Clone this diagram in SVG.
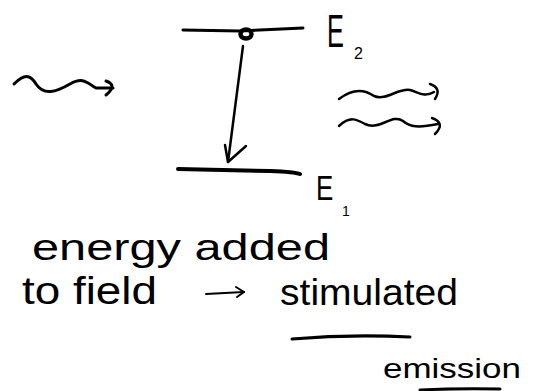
<svg xmlns="http://www.w3.org/2000/svg" width="556" height="391" viewBox="0 0 556 391">
<style>
.s{fill:none;stroke:#000;stroke-linecap:round;stroke-linejoin:round}
.t{font-family:"Liberation Sans",Arial,sans-serif;fill:#000}
</style>
<rect width="556" height="391" fill="#fff"/>
<g id="level-E2">
<path class="s" stroke-width="3" d="M183,30 L240,31 L303,28"/>
<ellipse cx="246" cy="34" rx="5.5" ry="4.5" fill="none" stroke="#000" stroke-width="4.5"/>
<text class="t" transform="translate(327,47) scale(0.55,1)" font-size="46">E</text>
<text class="t" x="354" y="59" font-size="16">2</text>
</g>
<g id="level-E1">
<path class="s" stroke-width="4" d="M178,169 L270,171 Q295,172 300,174"/>
<text class="t" transform="translate(316,200) scale(0.72,1)" font-size="36">E</text>
<text class="t" x="342" y="216" font-size="14">1</text>
</g>
<g id="connectors">
<path class="s" stroke-width="2.5" d="M243,46 L228,162"/>
<path class="s" stroke-width="2.5" d="M225,145 L228,162 L246,146"/>
<path class="s" stroke-width="3" d="M14,84 C24,74 30,74 36,84 C44,96 56,92 70,84 C84,76 88,84 96,88 L113,88"/>
<path class="s" stroke-width="3" d="M106,81 Q118,85 106,95"/>
<path class="s" stroke-width="2.5" d="M339,99 C352,89 364,89 374,96 C386,101 398,88 410,90 C418,92 424,98 434,92"/>
<path class="s" stroke-width="2.5" d="M430,84 Q442,88 435,99"/>
<path class="s" stroke-width="2.5" d="M339,126 C350,116 356,119 365,124 C380,131 392,113 403,121 C410,127 418,128 438,124"/>
<path class="s" stroke-width="2.5" d="M432,118 Q446,123 435,134"/>
<path class="s" stroke-width="2" d="M206,294 L244,292"/>
<path class="s" stroke-width="2" d="M236,287 L244,292 L237,297"/>
</g>
<g id="caption">
<text class="t" x="32" y="260" font-size="36" textLength="298" lengthAdjust="spacingAndGlyphs">energy added</text>
<text class="t" x="22" y="304" font-size="38" textLength="135" lengthAdjust="spacingAndGlyphs">to field</text>
<text class="t" x="280" y="305" font-size="36" textLength="178" lengthAdjust="spacingAndGlyphs">stimulated</text>
<path class="s" stroke-width="3" d="M292,339 Q350,334 410,337"/>
<text class="t" x="383" y="378" font-size="28" textLength="138" lengthAdjust="spacingAndGlyphs">emission</text>
<path class="s" stroke-width="3" d="M420,390 Q460,388 500,389"/>
</g>
</svg>
